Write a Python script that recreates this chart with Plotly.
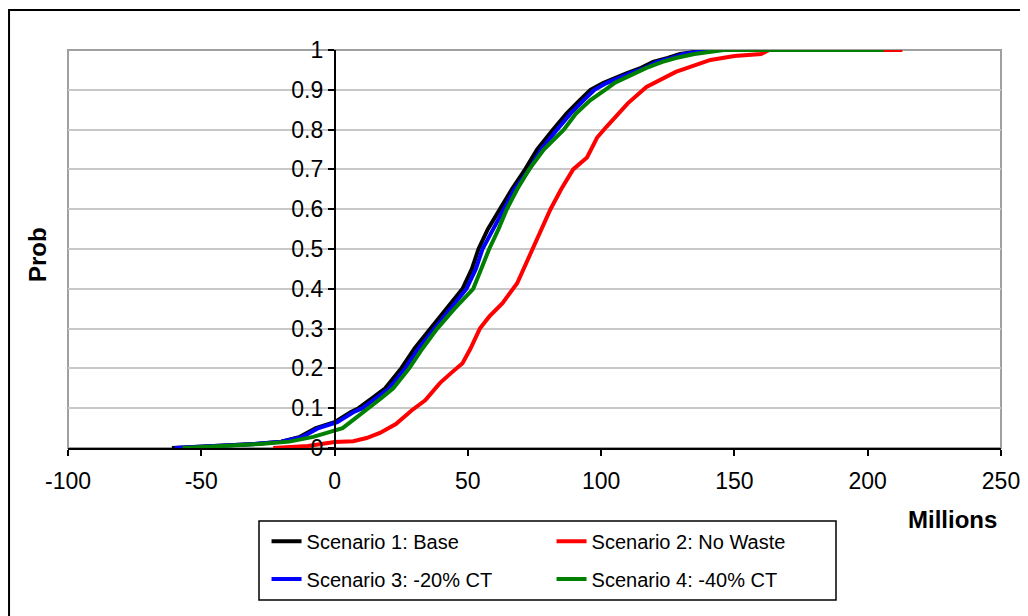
import plotly.graph_objects as go

# CDF points (x in millions, y = cumulative probability)
base_x = [-61, -45, -30, -20, -13, -7, 0, 6, 9, 14, 19, 25, 30, 36, 42, 48, 51.5, 54, 57.5, 62, 66.5, 71.5, 76, 82, 87, 92, 96, 100.7, 105, 109.7, 115, 119.5, 125, 129.6, 136, 142, 200]
base_p = [0, 0.004, 0.01, 0.016, 0.028, 0.05, 0.065, 0.09, 0.1, 0.125, 0.15, 0.2, 0.25, 0.3, 0.35, 0.4, 0.45, 0.5, 0.55, 0.6, 0.65, 0.7, 0.75, 0.8, 0.84, 0.874, 0.9, 0.917, 0.93, 0.942, 0.955, 0.97, 0.98, 0.99, 0.996, 1, 1]

nowaste_x = [-23, -10, 0, 7, 12, 17, 23, 29, 34, 39.5, 44, 48, 51, 54.5, 58, 63, 68.5, 73, 74, 77.5, 81, 85, 89.5, 94.7, 98.5, 102, 110, 117, 128, 141, 150, 160, 163, 213]
nowaste_p = [0, 0.005, 0.015, 0.017, 0.025, 0.038, 0.06, 0.095, 0.12, 0.163, 0.19, 0.213, 0.25, 0.3, 0.33, 0.364, 0.414, 0.48, 0.5, 0.55, 0.6, 0.65, 0.7, 0.73, 0.78, 0.807, 0.866, 0.907, 0.945, 0.975, 0.985, 0.99, 1, 1]

ct20_x = [-60, -45, -30, -20, -12, -6, 1, 7, 10.5, 15.5, 20.5, 26.5, 31.5, 37.5, 43.5, 49.5, 53, 55.5, 59.5, 63.5, 67.5, 73, 77.5, 83.5, 88.5, 93.5, 97.5, 102, 106.5, 111, 116.5, 121, 126.5, 131, 137, 143, 203]
ct20_p = base_p

ct40_x = [-57, -45, -28, -17, -8, 3, 6, 10.5, 12.5, 17.5, 22, 28, 33, 38.5, 45, 52, 55, 58, 61.5, 64.6, 68.5, 73, 78.5, 86, 90.5, 96, 101.5, 105, 109, 113, 117, 123, 128, 135, 142, 146, 206]
ct40_p = base_p

x_ticks = [-100, -50, 0, 50, 100, 150, 200, 250]
x_labels = ["-100", "-50", "0", "50", "100", "150", "200", "250"]

names = ["Scenario 1: Base", "Scenario 2: No Waste", "Scenario 3: -20% CT", "Scenario 4: -40% CT"]
colors = ["#000000", "#ff0000", "#0000ff", "#008000"]
series = [(base_x, base_p), (nowaste_x, nowaste_p), (ct20_x, ct20_p), (ct40_x, ct40_p)]
legends = ["legend", "legend", "legend2", "legend2"]

fig = go.Figure()
for (xs, ps), name, col, lg in zip(series, names, colors, legends):
    fig.add_trace(go.Scatter(x=xs, y=ps, mode="lines", name=name, legend=lg,
                             line=dict(color=col, width=4)))

font = "Liberation Sans, Arial, sans-serif"
fig.update_layout(
    width=1028, height=616,
    margin=dict(l=60, r=35, t=42, b=176),
    paper_bgcolor="white", plot_bgcolor="rgba(0,0,0,0)",
    font=dict(family=font, size=23, color="black"),
    xaxis=dict(range=[-100, 250], tickvals=x_ticks, ticktext=x_labels, automargin=False,
               showgrid=False, zeroline=False, showline=True, linecolor="black", linewidth=1.5,
               ticks="outside", ticklen=6, tickcolor="black", tickwidth=1.5, ticklabelstandoff=6),
    yaxis=dict(range=[0, 1], dtick=0.1, anchor="free", position=100 / 350, automargin=False,
               showgrid=True, gridcolor="#c8c8c8", gridwidth=1.5, zeroline=False,
               showline=True, linecolor="black", linewidth=1.5,
               ticks="outside", ticklen=6, tickcolor="black", tickwidth=1.5),
    legend=dict(orientation="h", x=0.2128, xanchor="left", y=-0.185, yanchor="top",
                entrywidth=240, font=dict(size=20), bgcolor="rgba(0,0,0,0)"),
    legend2=dict(orientation="h", x=0.2128, xanchor="left", y=-0.28, yanchor="top",
                 entrywidth=240, font=dict(size=20), bgcolor="rgba(0,0,0,0)"),
)

# plot area frame (gray) and outer chart frame (black)
fig.add_shape(type="rect", xref="paper", yref="paper", x0=0, x1=1, y0=0, y1=1,
              line=dict(color="#a0a0a0", width=2), layer="below")
fig.add_shape(type="rect", xref="paper", yref="paper", x0=-0.0632, x1=1.2, y0=-0.6, y1=1.1005,
              line=dict(color="black", width=2), layer="below")
# legend box
fig.add_shape(type="rect", xref="paper", yref="paper", x0=(259 - 68) / 933, x1=(836 - 68) / 933,
              y0=(448 - 600) / 398, y1=(448 - 521) / 398,
              line=dict(color="black", width=1.5), layer="below")

fig.add_annotation(text="<b>Prob</b>", xref="paper", yref="paper", x=(38 - 68) / 933, y=(448 - 255) / 398,
                   xanchor="center", yanchor="middle", showarrow=False, textangle=-90, font=dict(size=24))
fig.add_annotation(text="<b>Millions</b>", xref="paper", yref="paper", x=(952 - 68) / 933, y=(448 - 520) / 398,
                   xanchor="center", yanchor="middle", showarrow=False, font=dict(size=24))

fig.write_html("out.html")
